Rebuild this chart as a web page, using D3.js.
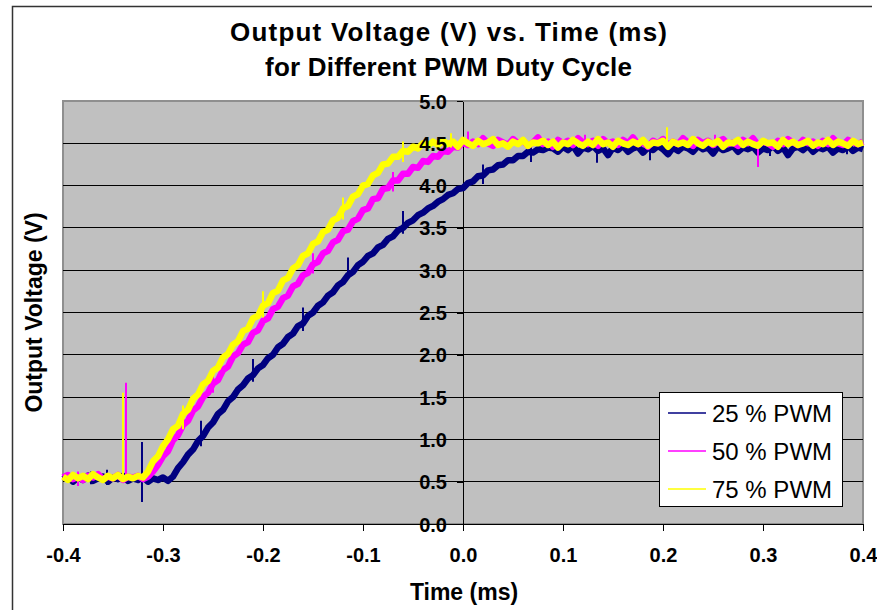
<!DOCTYPE html>
<html><head><meta charset="utf-8">
<script src="https://cdn.jsdelivr.net/npm/d3@7"></script>
<style>body{margin:0;background:#fff}svg{display:block}text{font-family:"Liberation Sans",Arial,sans-serif}</style>
</head><body><svg id="c" width="877" height="610"></svg>
<script>
const titleLines = ["Output Voltage (V) vs. Time (ms)", "for Different PWM Duty Cycle"];
const xLabel = "Time (ms)";
const yLabel = "Output Voltage (V)";
const seriesNames = ["25 % PWM", "50 % PWM", "75 % PWM"];
const seriesColors = ["#000080", "#FF00FF", "#FFFF00"];
const timeStart = -0.4, timeStep = 0.005;
const xTicks = [-0.4, -0.3, -0.2, -0.1, 0.0, 0.1, 0.2, 0.3, 0.4];
const yTicks = [0.0, 0.5, 1.0, 1.5, 2.0, 2.5, 3.0, 3.5, 4.0, 4.5, 5.0];

const pwm25 = [
0.53,0.56,0.50,0.55,0.52,0.57,0.51,0.54,0.56,0.50,0.55,0.53,0.57,0.51,0.54,0.52,0.56,0.50,0.54,0.52,0.55,0.51,
0.56,0.66,0.73,0.82,0.88,0.98,1.04,1.14,1.20,1.30,1.35,1.45,1.50,1.59,1.64,1.72,1.76,1.84,
1.88,1.96,2.00,2.09,2.13,2.21,2.25,2.34,2.37,2.46,2.50,2.58,2.62,2.70,2.74,2.82,2.86,2.94,2.98,3.06,
3.10,3.17,3.20,3.27,3.30,3.37,3.40,3.47,3.50,3.56,3.59,3.65,3.68,3.73,3.76,3.81,3.84,3.89,3.91,3.96,
3.97,4.03,4.05,4.11,4.12,4.18,4.19,4.24,4.25,4.30,4.30,4.35,4.35,4.40,4.39,4.43,4.42,4.45,
4.44,4.40,4.46,4.42,4.47,4.38,4.45,4.43,4.47,4.41,
4.44,4.36,4.45,4.42,4.47,4.40,4.44,4.46,4.39,4.45,
4.42,4.47,4.43,4.37,4.45,4.41,4.46,4.44,4.40,4.47,
4.43,4.45,4.38,4.46,4.42,4.44,4.47,4.40,4.45,4.43,
4.46,4.39,4.44,4.42,4.47,4.41,4.45,4.36,4.44,4.46,
4.42,4.47,4.40,4.45,4.43,4.46,4.39,4.44,4.42,4.47,
4.41,4.45,4.43];

const pwm50 = [
0.55,0.58,0.53,0.56,0.52,0.57,0.55,0.59,0.53,0.56,0.54,0.58,0.52,0.56,0.55,0.57,0.53,0.56,
0.62,0.70,0.80,0.86,0.99,1.05,1.17,1.22,1.34,1.39,1.50,1.55,1.66,1.70,1.82,1.86,1.98,2.02,
2.12,2.15,2.26,2.29,2.40,2.43,2.54,2.57,2.67,2.70,2.81,2.84,2.94,2.97,3.07,3.10,3.20,3.23,
3.33,3.36,3.46,3.48,3.58,3.61,3.71,3.73,3.84,3.85,3.96,3.97,4.06,4.06,4.14,4.14,4.22,4.21,
4.29,4.28,4.35,4.34,4.41,4.40,4.46,4.45,4.51,4.48,
4.52,4.49,4.56,4.50,4.47,4.54,4.51,4.48,4.55,4.50,
4.53,4.47,4.51,4.57,4.49,4.52,4.46,4.54,4.50,4.53,
4.48,4.56,4.51,4.49,4.53,4.47,4.55,4.50,4.52,4.48,
4.54,4.50,4.57,4.49,4.51,4.46,4.53,4.50,4.55,4.48,
4.52,4.49,4.56,4.51,4.47,4.54,4.50,4.53,4.48,4.52,
4.55,4.49,4.51,4.47,4.54,4.50,4.56,4.48,4.52,4.50,
4.46,4.53,4.49,4.55,4.51,4.48,4.54,4.50,4.52,4.47,
4.53,4.49,4.56,4.50,4.48,4.54,4.51,4.49,4.52];

const pwm75 = [
0.56,0.52,0.58,0.54,0.57,0.53,0.59,0.55,0.52,0.57,0.54,0.58,0.53,0.56,0.54,0.57,0.55,
0.62,0.74,0.80,0.92,1.00,1.12,1.16,1.30,1.35,1.48,1.53,1.65,1.69,1.81,1.85,1.97,2.01,2.12,2.16,
2.28,2.31,2.43,2.46,2.58,2.61,2.73,2.76,2.88,2.91,3.02,3.06,3.17,3.20,3.31,3.34,3.45,3.48,
3.59,3.62,3.73,3.76,3.87,3.90,4.00,4.02,4.12,4.15,4.25,4.26,4.34,4.34,4.41,4.40,4.46,4.44,
4.50,4.47,4.52,
4.48,4.53,4.49,4.52,4.46,4.54,4.50,4.47,4.53,4.49,
4.51,4.55,4.48,4.50,4.46,4.52,4.49,4.54,4.47,4.51,
4.50,4.53,4.48,4.52,4.45,4.51,4.49,4.54,4.50,4.47,
4.52,4.48,4.55,4.49,4.51,4.46,4.53,4.50,4.48,4.52,
4.49,4.54,4.47,4.51,4.50,4.53,4.46,4.52,4.49,4.51,
4.48,4.55,4.50,4.47,4.52,4.49,4.53,4.46,4.51,4.50,
4.54,4.48,4.52,4.49,4.47,4.53,4.50,4.51,4.46,4.54,
4.49,4.52,4.48,4.50,4.53,4.47,4.51,4.49,4.54,4.48,
4.52,4.50,4.47,4.53,4.49,4.51];

// narrow spikes: [time, low V, high V]
const spikes25 = [[-0.321,0.26,0.97],[-0.356,0.46,0.64],[-0.372,0.47,0.62],[-0.262,0.92,1.22],[-0.21,1.68,1.95],
  [-0.16,2.28,2.56],[-0.115,2.90,3.15],[-0.06,3.43,3.70],[0.02,4.02,4.25],[0.068,4.28,4.50],
  [0.134,4.27,4.45],[0.187,4.30,4.45],[0.307,4.35,4.45],[0.384,4.37,4.45]];
const spikes50 = [[-0.337,0.55,1.67],[-0.385,0.45,0.62],[-0.25,1.55,1.80],[-0.15,2.96,3.20],[-0.07,3.93,4.16],
  [0.005,4.45,4.64],[0.122,4.45,4.60],[0.295,4.22,4.50],[0.252,4.45,4.60]];
const spikes75 = [[-0.340,0.55,1.55],[-0.28,1.12,1.40],[-0.2,2.44,2.75],[-0.12,3.60,3.86],[-0.06,4.28,4.52],
  [0.204,4.50,4.69],[-0.012,4.45,4.62]];

const allSeries = [pwm25, pwm50, pwm75];
const allSpikes = [spikes25, spikes50, spikes75];

const svg = d3.select("#c");
const L = 63, R = 863, T = 101, B = 524;
const x = d3.scaleLinear().domain([-0.4, 0.4]).range([L, R]);
const y = d3.scaleLinear().domain([0, 5]).range([B, T]);
const fmt = d => d.toFixed(1);

// chart outer border
svg.append("path").attr("d", "M12.5,616V6.5H872").attr("fill","none").attr("stroke","#333").attr("stroke-width",1.5);

// plot area
svg.append("rect").attr("x", L).attr("y", T).attr("width", R-L).attr("height", B-T)
  .attr("fill", "#C0C0C0").attr("stroke", "#8f8f8f").attr("stroke-width", 2);

// gridlines
svg.append("g").selectAll("line").data(yTicks.filter(v => v > 0 && v < 5)).join("line")
  .attr("x1", L).attr("x2", R).attr("y1", d => y(d)).attr("y2", d => y(d))
  .attr("stroke", "#000").attr("stroke-width", 1).attr("shape-rendering","crispEdges");

// axes lines & ticks (under series)
const xAxisLines = svg.append("g").attr("transform", `translate(0,${B})`)
  .call(d3.axisBottom(x).tickValues(xTicks).tickSize(7).tickSizeOuter(0).tickFormat(""));
const yAxisLines = svg.append("g").attr("transform", `translate(${x(0)},0)`)
  .call(d3.axisLeft(y).tickValues(yTicks).tickSize(6).tickSizeOuter(0).tickFormat(""));
[xAxisLines, yAxisLines].forEach(g => {
  g.selectAll("path,line").attr("stroke", "#000").attr("stroke-width", 1).attr("shape-rendering","crispEdges");
});

// series
const line = d3.line().x((d, i) => x(timeStart + i * timeStep)).y(d => y(d));
allSeries.forEach((s, i) => {
  svg.append("path").datum(s).attr("d", line).attr("fill", "none")
    .attr("stroke", seriesColors[i]).attr("stroke-width", 6.5).attr("stroke-linejoin", "round");
  svg.append("g").selectAll("line").data(allSpikes[i]).join("line")
    .attr("x1", d => x(d[0])).attr("x2", d => x(d[0]))
    .attr("y1", d => y(d[1])).attr("y2", d => y(d[2]))
    .attr("stroke", seriesColors[i]).attr("stroke-width", 2);
});

// tick labels (over series)
const xAxisText = svg.append("g").attr("transform", `translate(0,${B})`)
  .call(d3.axisBottom(x).tickValues(xTicks).tickFormat(fmt));
xAxisText.select(".domain").remove();
xAxisText.selectAll("line").remove();
xAxisText.selectAll("text").attr("y", 38).attr("dy", 0)
  .attr("font-size", 20).attr("font-weight", "bold").attr("fill", "#000")
  .attr("font-family", '"Liberation Sans", Arial, sans-serif');
const yAxisText = svg.append("g").attr("transform", `translate(${x(0)},0)`)
  .call(d3.axisLeft(y).tickValues(yTicks).tickFormat(fmt));
yAxisText.select(".domain").remove();
yAxisText.selectAll("line").remove();
yAxisText.selectAll("text").attr("x", -16).attr("dy", "0.35em")
  .attr("font-size", 20).attr("font-weight", "bold").attr("fill", "#000")
  .attr("font-family", '"Liberation Sans", Arial, sans-serif');

// titles
const titleLens = [437, 367];
const titleY = [41, 76];
titleLines.forEach((t, i) => {
  svg.append("text").attr("x", 448.5).attr("y", titleY[i]).attr("text-anchor", "middle")
    .attr("font-size", 26).attr("font-weight", "bold").attr("textLength", titleLens[i])
    .attr("lengthAdjust", "spacing").text(t);
});
svg.append("text").attr("x", 464).attr("y", 600).attr("text-anchor", "middle")
  .attr("font-size", 23).attr("font-weight", "bold").text(xLabel);
svg.append("text").attr("transform", `translate(42,${(T + B) / 2}) rotate(-90)`)
  .attr("text-anchor", "middle").attr("font-size", 23).attr("font-weight", "bold").text(yLabel);

// legend
const lg = svg.append("g").attr("transform", "translate(659,392)");
lg.append("rect").attr("x", 0.5).attr("y", 0.5).attr("width", 183).attr("height", 114)
  .attr("fill", "#fff").attr("stroke", "#000").attr("stroke-width", 1);
seriesNames.forEach((n, i) => {
  const cy = 21 + i * 38;
  lg.append("line").attr("x1", 9).attr("x2", 47).attr("y1", cy).attr("y2", cy)
    .attr("stroke", seriesColors[i]).attr("stroke-width", 1.5);
  lg.append("text").attr("x", 53).attr("y", cy + 8.5).attr("font-size", 24).text(n);
});
</script></body></html>
